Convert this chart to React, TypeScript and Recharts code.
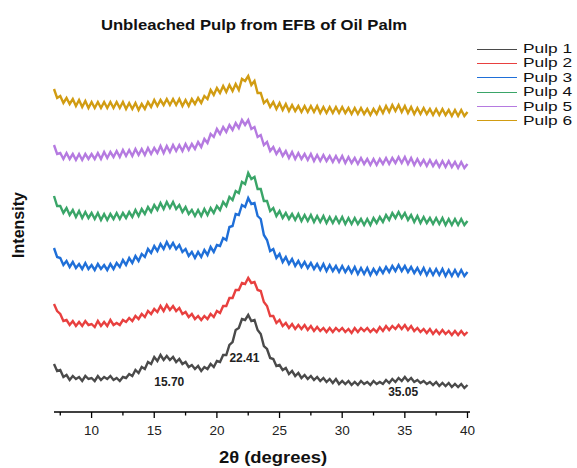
import { LineChart, Line, XAxis, YAxis, ReferenceDot } from 'recharts'

// 2θ sampling grid (degrees)
const angles = [
  7, 7.25, 7.5, 7.75, 8, 8.25, 8.5, 8.75, 9, 9.25, 9.5, 9.75,
  10, 10.25, 10.5, 10.75, 11, 11.25, 11.5, 11.75, 12, 12.25, 12.5, 12.75,
  13, 13.25, 13.5, 13.75, 14, 14.25, 14.5, 14.75, 15, 15.25, 15.5, 15.75,
  16, 16.25, 16.5, 16.75, 17, 17.25, 17.5, 17.75, 18, 18.25, 18.5, 18.75,
  19, 19.25, 19.5, 19.75, 20, 20.25, 20.5, 20.75, 21, 21.25, 21.5, 21.75,
  22, 22.25, 22.5, 22.75, 23, 23.25, 23.5, 23.75, 24, 24.25, 24.5, 24.75,
  25, 25.25, 25.5, 25.75, 26, 26.25, 26.5, 26.75, 27, 27.25, 27.5, 27.75,
  28, 28.25, 28.5, 28.75, 29, 29.25, 29.5, 29.75, 30, 30.25, 30.5, 30.75,
  31, 31.25, 31.5, 31.75, 32, 32.25, 32.5, 32.75, 33, 33.25, 33.5, 33.75,
  34, 34.25, 34.5, 34.75, 35, 35.25, 35.5, 35.75, 36, 36.25, 36.5, 36.75,
  37, 37.25, 37.5, 37.75, 38, 38.25, 38.5, 38.75, 39, 39.25, 39.5, 39.75,
  40,
]

// stacked (offset) intensities, arbitrary units
const pulp1 = [
  48, 41, 42, 35, 37, 32, 36, 33, 35, 31, 36, 33,
  34, 31, 36, 32, 35, 33, 36, 32, 34, 31, 35, 34,
  38, 36, 42, 39, 45, 43, 50, 48, 55, 51, 57, 52,
  56, 52, 55, 50, 53, 48, 50, 45, 47, 43, 46, 41,
  45, 43, 48, 45, 51, 50, 57, 57, 67, 70, 82, 84,
  93, 92, 97, 91, 92, 82, 78, 66, 63, 54, 53, 46,
  47, 42, 44, 38, 41, 36, 39, 34, 37, 33, 36, 32,
  35, 31, 34, 30, 33, 29, 33, 28, 31, 28, 31, 27,
  30, 27, 31, 28, 30, 27, 31, 28, 30, 28, 32, 29,
  33, 30, 34, 31, 35, 31, 34, 30, 32, 29, 31, 28,
  30, 27, 30, 26, 29, 26, 29, 25, 28, 25, 28, 24,
  27,
]
const pulp2 = [
  108, 101, 98, 91, 92, 87, 91, 86, 90, 86, 91, 87,
  88, 85, 91, 86, 90, 86, 92, 87, 89, 87, 92, 90,
  94, 91, 96, 93, 98, 95, 101, 98, 103, 100, 106, 101,
  107, 102, 106, 101, 104, 98, 100, 95, 98, 93, 96, 92,
  96, 93, 98, 95, 101, 99, 106, 106, 114, 114, 122, 122,
  129, 128, 134, 129, 130, 122, 121, 110, 106, 96, 96, 89,
  92, 86, 89, 84, 88, 83, 87, 83, 87, 82, 86, 81,
  85, 81, 84, 80, 84, 80, 84, 81, 84, 80, 83, 79,
  84, 80, 84, 81, 84, 80, 83, 80, 85, 81, 86, 82,
  86, 83, 87, 83, 87, 82, 86, 81, 84, 80, 83, 79,
  83, 78, 82, 78, 82, 78, 81, 77, 81, 77, 81, 77,
  80,
]
const pulp3 = [
  164, 155, 154, 147, 151, 145, 150, 144, 148, 143, 149, 143,
  147, 142, 148, 143, 147, 142, 148, 143, 149, 145, 152, 147,
  154, 149, 156, 151, 158, 155, 163, 159, 166, 161, 168, 163,
  170, 164, 169, 163, 167, 160, 163, 156, 160, 154, 160, 155,
  162, 157, 165, 160, 167, 166, 174, 172, 185, 186, 198, 197,
  207, 205, 214, 208, 209, 196, 193, 177, 172, 161, 163, 154,
  158, 150, 155, 148, 153, 146, 151, 145, 150, 144, 149, 143,
  148, 142, 148, 141, 147, 141, 146, 140, 146, 140, 145, 139,
  145, 138, 144, 138, 144, 137, 143, 138, 144, 139, 145, 140,
  146, 141, 147, 141, 146, 140, 145, 139, 144, 138, 144, 137,
  143, 137, 143, 137, 143, 136, 142, 136, 142, 136, 142, 136,
  140,
]
const pulp4 = [
  216, 206, 206, 199, 204, 197, 202, 195, 201, 194, 200, 194,
  199, 193, 199, 192, 198, 192, 198, 193, 199, 193, 199, 194,
  200, 195, 202, 196, 203, 198, 205, 200, 207, 202, 209, 203,
  210, 204, 210, 203, 207, 200, 205, 198, 202, 196, 202, 196,
  203, 197, 204, 199, 206, 202, 210, 206, 215, 212, 221, 219,
  230, 228, 239, 233, 235, 223, 223, 211, 211, 201, 204, 196,
  201, 194, 199, 193, 198, 192, 198, 191, 197, 191, 197, 190,
  196, 190, 196, 189, 195, 189, 195, 189, 195, 188, 194, 188,
  194, 188, 193, 187, 193, 187, 194, 189, 195, 190, 197, 192,
  199, 194, 200, 194, 199, 192, 197, 190, 196, 189, 195, 189,
  194, 188, 194, 188, 194, 187, 193, 187, 193, 187, 193, 187,
  191,
]
const pulp5 = [
  267, 258, 259, 253, 259, 253, 258, 252, 258, 252, 258, 253,
  258, 253, 259, 253, 260, 254, 260, 255, 261, 255, 262, 256,
  262, 256, 263, 257, 263, 257, 264, 258, 264, 259, 266, 259,
  266, 260, 267, 261, 267, 261, 268, 262, 268, 263, 270, 265,
  273, 269, 278, 275, 283, 278, 285, 280, 287, 282, 289, 284,
  292, 287, 292, 283, 285, 275, 277, 267, 270, 261, 265, 258,
  263, 256, 261, 254, 260, 253, 259, 253, 258, 252, 258, 251,
  257, 251, 257, 251, 256, 250, 256, 250, 256, 249, 255, 249,
  254, 248, 254, 248, 253, 247, 253, 247, 253, 248, 254, 248,
  254, 249, 255, 249, 255, 248, 254, 247, 253, 247, 252, 246,
  252, 246, 251, 245, 251, 245, 251, 245, 250, 244, 250, 244,
  248,
]
const pulp6 = [
  323, 314, 316, 309, 314, 308, 313, 306, 312, 305, 311, 304,
  310, 304, 310, 304, 310, 304, 310, 304, 310, 304, 310, 303,
  309, 303, 309, 302, 308, 303, 310, 305, 312, 306, 312, 307,
  313, 307, 313, 307, 313, 306, 312, 306, 313, 308, 314, 309,
  316, 313, 322, 317, 324, 319, 326, 320, 327, 321, 328, 322,
  333, 331, 336, 327, 331, 319, 319, 309, 312, 305, 310, 303,
  309, 302, 308, 301, 307, 301, 306, 300, 306, 300, 306, 300,
  306, 299, 305, 299, 305, 299, 305, 299, 305, 299, 304, 298,
  304, 298, 304, 298, 303, 297, 303, 298, 305, 299, 306, 300,
  307, 301, 307, 300, 306, 299, 305, 298, 304, 298, 304, 298,
  303, 297, 303, 297, 303, 297, 302, 296, 302, 296, 302, 296,
  300,
]

const seriesNames = ['Pulp 1', 'Pulp 2', 'Pulp 3', 'Pulp 4', 'Pulp 5', 'Pulp 6']
const seriesColors = ['#4a4a4a', '#e8403f', '#1f6fd8', '#3aa568', '#b57ae0', '#d19c12']
const allSeries = [pulp1, pulp2, pulp3, pulp4, pulp5, pulp6]

const xTicks = [7.5, 10, 12.5, 15, 17.5, 20, 22.5, 25, 27.5, 30, 32.5, 35, 37.5, 40]

// peak annotations: [label, angle, height]
const peakLabels: [string, number, number][] = [
  ['15.70', 16.2, 30],
  ['22.41', 22.2, 54],
  ['35.05', 34.87, 20],
]

const data = angles.map((a, i) => {
  const row: Record<string, number> = { angle: a }
  seriesNames.forEach((n, k) => { row[n] = allSeries[k][i] })
  return row
})

const FONT = 'Arial, "Liberation Sans", Helvetica, sans-serif'

function AngleTick(props: any) {
  const { x, y, payload } = props
  const major = payload.value % 5 === 0
  return (
    <g>
      <line x1={x} y1={y} x2={x} y2={y + (major ? 6 : 3.5)} stroke="#000" strokeWidth={1.3} />
      {major && (
        <text x={x} y={y + 23} textAnchor="middle" fontSize={13.5} fill="#222" fontFamily={FONT}>
          {payload.value}
        </text>
      )}
    </g>
  )
}

export default function App() {
  return (
    <div style={{ position: 'absolute', left: 0, top: 0, width: 577, height: 468, background: '#fff', fontFamily: FONT }}>
      <div style={{ position: 'absolute', left: 0, width: 508, top: 16, textAlign: 'center', fontSize: 15, fontWeight: 'bold', color: '#111', transform: 'scaleX(1.11)', transformOrigin: '254px 0' }}>
        Unbleached Pulp from EFB of Oil Palm
      </div>

      <LineChart width={577} height={468} data={data} margin={{ top: 56, right: 107, left: 54, bottom: 26 }}>
        <XAxis
          dataKey="angle"
          type="number"
          domain={[7, 40.2]}
          ticks={xTicks}
          interval={0}
          height={30}
          tickLine={false}
          tickSize={0}
          tickMargin={0}
          tick={<AngleTick />}
          axisLine={{ stroke: '#000', strokeWidth: 1.5 }}
        />
        <YAxis
          type="number"
          domain={[0, 356]}
          width={0}
          tick={false}
          tickLine={false}
          axisLine={{ stroke: '#000', strokeWidth: 1.5 }}
        />
        {seriesNames.map((n, k) => (
          <Line
            key={n}
            dataKey={n}
            stroke={seriesColors[k]}
            strokeWidth={2.4}
            dot={false}
            type="linear"
            isAnimationActive={false}
          />
        ))}
        {peakLabels.map(([txt, a, h]) => (
          <ReferenceDot
            key={txt}
            x={a}
            y={h}
            r={0}
            fill="none"
            stroke="none"
            label={{ value: txt, position: 'center', fontSize: 12, fontWeight: 'bold', fill: '#222', fontFamily: FONT }}
          />
        ))}
      </LineChart>

      <div style={{ position: 'absolute', left: 19, top: 225, transform: 'translate(-50%, -50%) rotate(-90deg)', fontSize: 16, fontWeight: 'bold', color: '#111', whiteSpace: 'nowrap' }}>
        Intensity
      </div>
      <div style={{ position: 'absolute', left: 213, width: 120, top: 449, textAlign: 'center', fontSize: 16, fontWeight: 'bold', color: '#111', whiteSpace: 'nowrap', transform: 'scaleX(1.15)', transformOrigin: '60px 0' }}>
        2θ (degrees)
      </div>

      {/* legend */}
      <div style={{ position: 'absolute', left: 477, top: 42 }}>
        {seriesNames.map((n, k) => (
          <div key={n} style={{ position: 'relative', height: 14.4, width: 100 }}>
            <span style={{ position: 'absolute', left: 0, top: 6.5, width: 40, height: 0, borderTop: `1.5px solid ${seriesColors[k]}` }} />
            <span style={{ position: 'absolute', left: 46, top: 0, fontSize: 13.5, color: '#111', lineHeight: '13px', whiteSpace: 'nowrap', transform: 'scaleX(1.28)', transformOrigin: '0 50%' }}>{n}</span>
          </div>
        ))}
      </div>
    </div>
  )
}
